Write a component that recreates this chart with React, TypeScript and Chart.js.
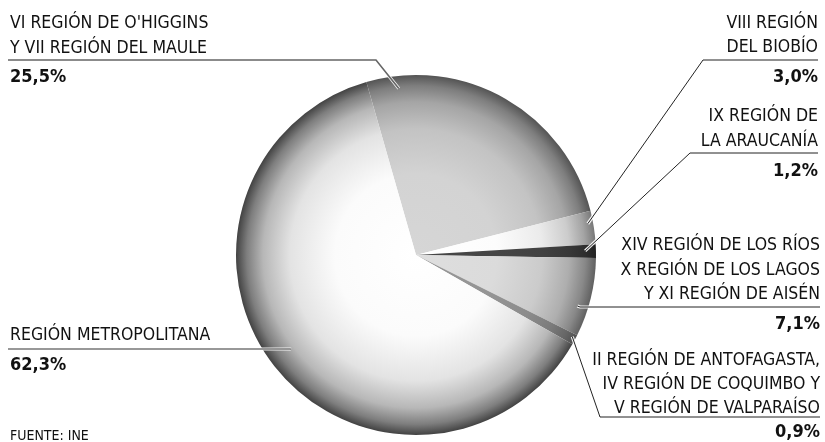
import React, { useEffect, useRef } from "react";
import { Chart, registerables } from "chart.js";

Chart.register(...registerables);

// ---- data ----
const regions = [
  "VI Región de O'Higgins y VII Región del Maule",
  "VIII Región del Biobío",
  "IX Región de La Araucanía",
  "XIV Región de Los Ríos, X Región de Los Lagos y XI Región de Aisén",
  "II Región de Antofagasta, IV Región de Coquimbo y V Región de Valparaíso",
  "Región Metropolitana",
];
const shares = [25.5, 3.0, 1.2, 7.1, 0.9, 62.3];
const labelLines = [
  ["VI REGIÓN DE O'HIGGINS", "Y VII REGIÓN DEL MAULE"],
  ["VIII REGIÓN", "DEL BIOBÍO"],
  ["IX REGIÓN DE", "LA ARAUCANÍA"],
  ["XIV REGIÓN DE LOS RÍOS", "X REGIÓN DE LOS LAGOS", "Y XI REGIÓN DE AISÉN"],
  ["II REGIÓN DE ANTOFAGASTA,", "IV REGIÓN DE COQUIMBO Y", "V REGIÓN DE VALPARAÍSO"],
  ["REGIÓN METROPOLITANA"],
];
const sourceText = "FUENTE: INE";

// ---- styles ----
// [centre grey, edge grey]
const sliceShades: [number, number][] = [
  [214, 84],
  [255, 120],
  [70, 34],
  [222, 96],
  [150, 80],
  [255, 66],
];

const FONT = '"Liberation Sans Narrow", "DejaVu Sans Condensed", "Roboto Condensed", sans-serif';

type LabelLayout = {
  align: "left" | "right";
  x: number;
  lineY: number[];
  pctY: number;
  rule: [number, number, number]; // y, outer x, inner x
  anchor: [number, number]; // fraction of slice angle, fraction of radius
  ruleColor: string;
  ruleWidth: number;
};

const layouts: LabelLayout[] = [
  { align: "left", x: 10, lineY: [28, 53], pctY: 82, rule: [60, 8, 376], anchor: [0.11, 0.93], ruleColor: "#666", ruleWidth: 1.6 },
  { align: "right", x: 818, lineY: [28, 52], pctY: 82, rule: [60, 818, 703], anchor: [0.36, 0.97], ruleColor: "#222", ruleWidth: 1 },
  { align: "right", x: 818, lineY: [121, 146], pctY: 176, rule: [153, 818, 690], anchor: [0.47, 0.94], ruleColor: "#222", ruleWidth: 1 },
  { align: "right", x: 820, lineY: [250, 275, 299], pctY: 329, rule: [307, 820, 580], anchor: [0.65, 0.94], ruleColor: "#222", ruleWidth: 1 },
  { align: "right", x: 820, lineY: [365, 389, 413], pctY: 437, rule: [417, 820, 600], anchor: [0.35, 0.98], ruleColor: "#222", ruleWidth: 1 },
  { align: "left", x: 10, lineY: [340], pctY: 370, rule: [349, 8, 290], anchor: [0.505, 0.87], ruleColor: "#777", ruleWidth: 1.6 },
];

const fmtPct = (v: number) => v.toFixed(1).replace(".", ",") + "%";
const gray = (v: number) => {
  const c = Math.round(v);
  return `rgb(${c},${c},${c})`;
};

const labelsPlugin = {
  id: "calloutLabels",
  afterDatasetsDraw(chart: any) {
    const ctx = chart.ctx as CanvasRenderingContext2D;
    const meta = chart.getDatasetMeta(0);
    ctx.save();
    meta.data.forEach((arc: any, i: number) => {
      const L = layouts[i];
      const p = arc.getProps(["x", "y", "startAngle", "endAngle", "outerRadius"], true);
      const a = p.startAngle + L.anchor[0] * (p.endAngle - p.startAngle);
      const ax = p.x + p.outerRadius * L.anchor[1] * Math.cos(a);
      const ay = p.y + p.outerRadius * L.anchor[1] * Math.sin(a);
      const [ry, rx0, rx1] = L.rule;
      const pts: [number, number][] = [
        [rx0, ry],
        [rx1, ry],
        [ax, ay],
      ];
      const path = () => {
        ctx.beginPath();
        ctx.moveTo(pts[0][0], pts[0][1]);
        for (let k = 1; k < pts.length; k++) ctx.lineTo(pts[k][0], pts[k][1]);
      };
      ctx.lineJoin = "miter";
      ctx.strokeStyle = "rgba(255,255,255,0.9)";
      ctx.lineWidth = 3.2;
      path();
      ctx.stroke();
      ctx.strokeStyle = L.ruleColor;
      ctx.lineWidth = L.ruleWidth;
      path();
      ctx.stroke();
    });
    ctx.restore();
  },
  afterDraw(chart: any) {
    const ctx = chart.ctx as CanvasRenderingContext2D;
    ctx.save();
    ctx.fillStyle = "#111";
    ctx.textBaseline = "alphabetic";
    layouts.forEach((L, i) => {
      ctx.textAlign = L.align;
      ctx.font = `17.5px ${FONT}`;
      labelLines[i].forEach((t, k) => ctx.fillText(t, L.x, L.lineY[k]));
      ctx.font = `bold 18px ${FONT}`;
      ctx.fillText(fmtPct(shares[i]), L.x, L.pctY);
    });
    ctx.textAlign = "left";
    ctx.font = `14px ${FONT}`;
    ctx.fillText(sourceText, 10, 440);
    ctx.restore();
  },
};

export default function App() {
  const ref = useRef<HTMLCanvasElement>(null);
  useEffect(() => {
    if (!ref.current) return;
    const chart = new Chart(ref.current, {
      type: "pie",
      data: {
        labels: regions,
        datasets: [
          {
            data: shares,
            borderWidth: 0,
            hoverOffset: 0,
            backgroundColor: (c: any) => {
              const [base, edge] = sliceShades[c.dataIndex] || [200, 100];
              const chart = c.chart;
              const area = chart.chartArea;
              if (!area) return gray(base);
              const cx = (area.left + area.right) / 2;
              const cy = (area.top + area.bottom) / 2;
              const r = Math.min(area.right - area.left, area.bottom - area.top) / 2;
              const g = chart.ctx.createRadialGradient(cx, cy, 0, cx, cy, r);
              const mix = (t: number) => gray(base + (edge - base) * t);
              g.addColorStop(0, mix(0));
              g.addColorStop(0.45, mix(0.02));
              g.addColorStop(0.7, mix(0.15));
              g.addColorStop(0.85, mix(0.38));
              g.addColorStop(0.94, mix(0.68));
              g.addColorStop(1, mix(1));
              return g;
            },
          },
        ],
      },
      options: {
        responsive: false,
        animation: false,
        events: [],
        rotation: -16,
        layout: { padding: { top: 75, bottom: 7, left: 236, right: 229 } },
        plugins: { legend: { display: false }, tooltip: { enabled: false } },
      },
      plugins: [labelsPlugin],
    });
    return () => chart.destroy();
  }, []);
  return (
    <div style={{ position: "absolute", left: 0, top: 0, width: 825, height: 442, background: "#fff" }}>
      <canvas ref={ref} width={825} height={442} style={{ width: 825, height: 442, display: "block" }} />
    </div>
  );
}
